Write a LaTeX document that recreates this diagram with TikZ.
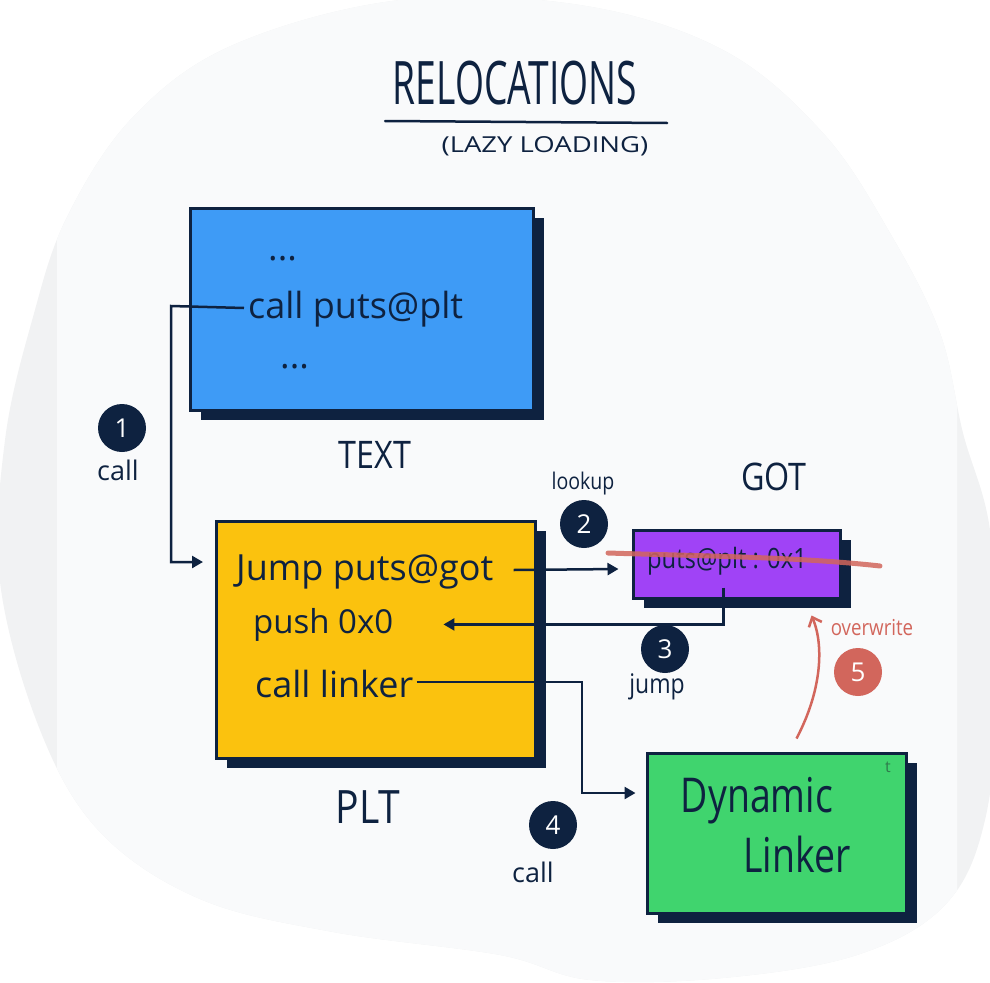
\documentclass[tikz,border=0pt]{standalone}
\usepackage{fontspec}
\setmainfont{Open Sans}
\newfontfamily\titlefont[FakeStretch=0.62]{Open Sans}
\newfontfamily\subfont[FakeStretch=1.25]{Open Sans}
\newfontfamily\handfont[FakeStretch=0.85]{Open Sans}
\newfontfamily\linkfont[FakeStretch=0.78]{Open Sans}
\usetikzlibrary{arrows.meta,shadows}
\definecolor{navy}{HTML}{0E2240}
\definecolor{textblue}{HTML}{3E9BF6}
\definecolor{pltyellow}{HTML}{FBC20E}
\definecolor{gotpurple}{HTML}{A043F6}
\definecolor{lgreen}{HTML}{40D46E}
\definecolor{redfive}{HTML}{D2665C}
\definecolor{blobdark}{HTML}{F1F2F3}
\definecolor{bloblight}{HTML}{F9FAFB}
\definecolor{tgreen}{HTML}{2F7A4C}
\begin{document}
\begin{tikzpicture}[x=1pt,y=-1pt,
  box/.style={draw=navy, line width=3pt, inner sep=0pt,
    drop shadow={shadow xshift=11pt, shadow yshift=-10pt, fill=navy, opacity=1}},
  code/.style={text=navy, inner sep=0pt, anchor=base west, font=\fontsize{36}{40}\selectfont},
  lbl/.style={text=navy, inner sep=0pt, font=\handfont\fontsize{38}{42}\selectfont},
  small/.style={text=navy, inner sep=0pt, font=\fontsize{27}{30}\selectfont},
  num/.style={circle, fill=navy, minimum size=48pt, inner sep=0pt, text=white, font=\fontsize{26}{28}\selectfont},
  conn/.style={draw=navy, line width=2.5pt, -{Triangle[length=11pt,width=12pt]}},
  redarr/.style={draw=redfive, line width=2.5pt, -{Straight Barb[length=8pt,width=14pt]}},
  strike/.style={draw=redfive, line width=5pt, line cap=round, opacity=0.85}
]
\useasboundingbox (0,0) rectangle (990,982);
\def\blob{plot[smooth cycle, tension=0.6] coordinates {(400,0) (580,5) (723,50) (823,133) (890,233) (940,333) (963,433) (990,530) (998,680) (985,820) (945,905) (857,955) (723,978) (590,980) (500,955) (333,932) (200,899) (100,832) (40,730) (0,582) (5,440) (33,317) (67,217) (133,117) (233,45)}}
\fill[blobdark] \blob;
\begin{scope}
  \clip (57,0) rectangle (957,982);
  \fill[bloblight] \blob;
\end{scope}

% title
\node[anchor=base, text=navy, inner sep=0pt, font=\titlefont\fontsize{60}{64}\selectfont] (title) at (515,104) {RELOCATIONS};
\coordinate (u1) at (385,121);
\coordinate (u2) at (667,123);
\draw[navy, line width=2.5pt, line cap=round] (u1) -- (u2);
\node[anchor=base, text=navy, inner sep=0pt, font=\subfont\fontsize{22}{24}\selectfont] (subtitle) at (545,152) {(LAZY LOADING)};

% boxes
\node[box, fill=textblue, minimum width=343pt, minimum height=202pt] (textbox) at (361.5,309) {};
\node[box, fill=pltyellow, minimum width=319pt, minimum height=237pt] (plt) at (375.5,639.5) {};
\node[box, fill=gotpurple, minimum width=207pt, minimum height=68pt] (got) at (736.5,564) {};
\node[box, fill=lgreen, minimum width=259pt, minimum height=160pt] (linker) at (776.5,833) {};

% box texts
\node[code] (dots1) at (268,260) {...};
\node[code] (tcall) at (248,318) {call puts@plt};
\node[code] (dots2) at (280,368) {...};
\node[code] (tjump) at (236,580) {Jump puts@got};
\node[code, font=\fontsize{33}{36}\selectfont] (tpush) at (253,633) {push 0x0};
\node[code] (tlinker) at (255,697) {call linker};
\node[code, anchor=base, font=\handfont\fontsize{28}{30}\selectfont] (tgot) at (727,568) {puts@plt : 0x1};
\node[text=navy, inner sep=0pt, anchor=base, font=\linkfont\fontsize{48}{52}\selectfont] (tdyn) at (757,812) {Dynamic};
\node[text=navy, inner sep=0pt, anchor=base, font=\linkfont\fontsize{48}{52}\selectfont] (tlink) at (797,872) {Linker};
\node[text=tgreen, inner sep=0pt, font=\fontsize{16}{18}\selectfont] (tmark) at (888,767) {t};

% labels
\node[lbl] (ltext) at (375,455) {TEXT};
\node[lbl, font=\handfont\fontsize{46}{50}\selectfont] (lplt) at (368,807) {PLT};
\node[lbl] (lgot) at (774,477) {GOT};
\node[small, font=\handfont\fontsize{23}{25}\selectfont] (lookup) at (583,484) {lookup};
\node[small] (call1) at (118,470) {call};
\node[small, font=\handfont\fontsize{27}{30}\selectfont] (jump3) at (657,687) {jump};
\node[small] (call4) at (533,872) {call};
\node[small, text=redfive, font=\handfont\fontsize{22}{24}\selectfont] (over) at (872,628) {overwrite};

% step numbers
\node[num] (n1) at (122,428) {1};
\node[num] (n2) at (584,524) {2};
\node[num] (n3) at (665,649) {3};
\node[num] (n4) at (553,825) {4};
\node[num, fill=redfive] (n5) at (858,672) {5};

% connectors
\coordinate (k1) at (171,306);
\coordinate (a1) at (203,562);
\draw[conn] ([xshift=-4pt,yshift=10pt]tcall.base west) -- (k1) |- (a1);
\draw[conn] ([xshift=20pt,yshift=10pt]tjump.base east) -- ([xshift=-13pt,yshift=-5pt]got.west);
\draw[conn] ([xshift=-13pt,yshift=12pt]got.south) |- ([xshift=50pt]tpush.east);
\coordinate (k4) at (582,793);
\draw[conn] ([xshift=3pt,yshift=15pt]tlinker.base east) -| (k4) -- ([xshift=-10pt,yshift=40pt]linker.west);
\draw[redarr] ([xshift=20pt,yshift=13pt]linker.north) .. controls (822,690) and (824,645) .. ([xshift=75pt,yshift=-16pt]got.south);

% strike-through
\coordinate (s1) at (608,553);
\coordinate (s2) at (880,566);
\draw[strike] (s1) .. controls (700,556) and (800,557) .. (s2);
\end{tikzpicture}
\end{document}
